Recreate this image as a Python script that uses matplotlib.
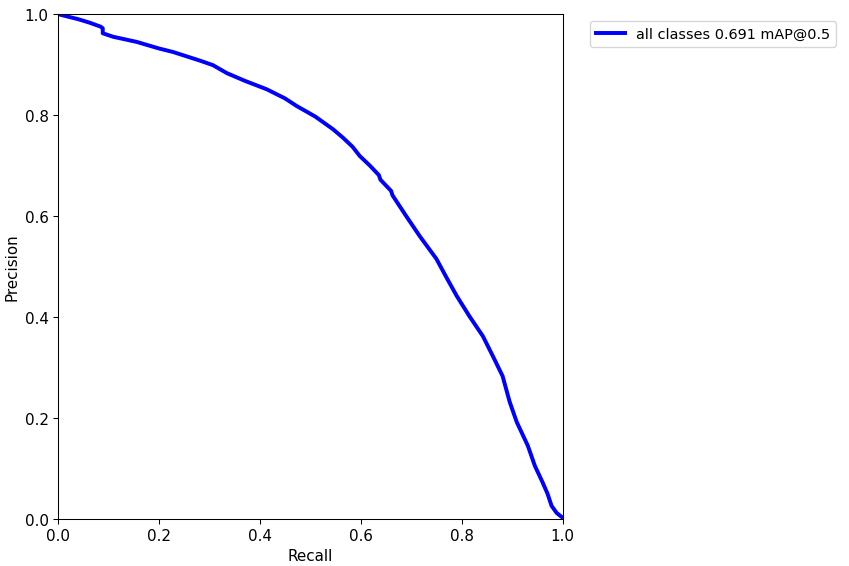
import matplotlib
matplotlib.use('Agg')
import matplotlib.pyplot as plt
import numpy as np

# precision-recall curve
recall = [0.0, 0.02, 0.04, 0.063, 0.085, 0.089, 0.089, 0.11, 0.156, 0.20, 0.228, 0.281,
          0.307, 0.335, 0.37, 0.414, 0.45, 0.473, 0.51, 0.545, 0.565, 0.584, 0.598,
          0.618, 0.636, 0.639, 0.660, 0.663, 0.69, 0.717, 0.750, 0.770, 0.790, 0.815,
          0.842, 0.862, 0.881, 0.895, 0.909, 0.931, 0.945, 0.960, 0.970, 0.978, 0.988, 0.998]
precision = [1.0, 0.995, 0.99, 0.983, 0.975, 0.972, 0.962, 0.955, 0.945, 0.932, 0.925, 0.908,
             0.899, 0.883, 0.868, 0.851, 0.833, 0.818, 0.797, 0.772, 0.755, 0.737, 0.719,
             0.700, 0.681, 0.672, 0.650, 0.641, 0.600, 0.560, 0.515, 0.478, 0.442, 0.402,
             0.362, 0.322, 0.283, 0.232, 0.192, 0.145, 0.105, 0.073, 0.050, 0.026, 0.012, 0.004]
label = 'all classes 0.691 mAP@0.5'

plt.rcParams['font.size'] = 11.5

fig = plt.figure(figsize=(9, 6), dpi=94.44)
ax = fig.add_axes([0.068, 0.083, 0.594, 0.891])
ax.plot(recall, precision, linewidth=3, color='blue', label=label)
ax.set_xlabel('Recall')
ax.set_ylabel('Precision')
ax.set_xlim(0, 1)
ax.set_ylim(0, 1)
ax.legend(bbox_to_anchor=(1.04, 1), loc='upper left', fontsize=11)
fig.savefig('out.png', dpi=94.44)
